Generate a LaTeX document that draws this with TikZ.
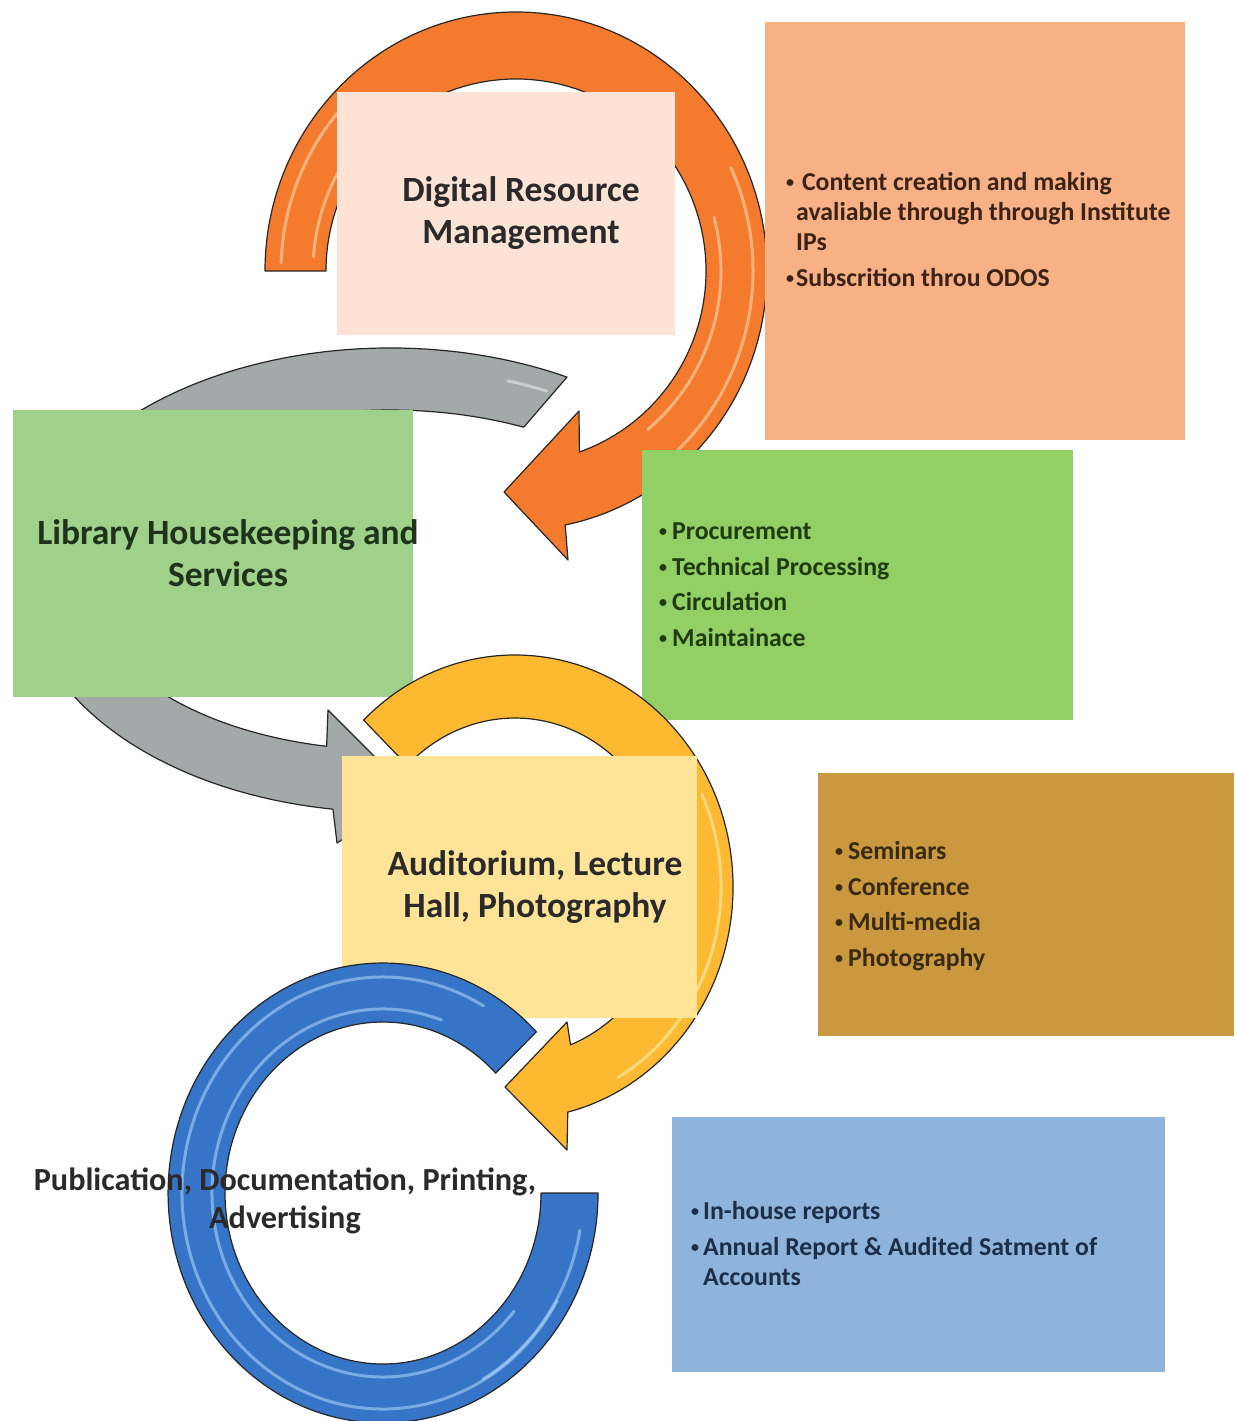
\documentclass[tikz,border=0pt]{standalone}
\usepackage{fontspec}
\setmainfont{Carlito}
\definecolor{arrOrange}{HTML}{F47B2E}
\definecolor{arrGray}{HTML}{A3A8A8}
\definecolor{arrYellow}{HTML}{FDB931}
\definecolor{arrBlue}{HTML}{3574C6}
\definecolor{orLight}{HTML}{FFD7B0}
\definecolor{blLight}{HTML}{A8D2F7}
\definecolor{yeLight}{HTML}{FFEFB0}
\definecolor{grLight}{HTML}{E4E8E8}
\definecolor{cDrm}{HTML}{FCE3D5}
\definecolor{cOrb}{HTML}{F8B085}
\definecolor{cLhs}{HTML}{9FD18B}
\definecolor{cGrb}{HTML}{92CF64}
\definecolor{cAud}{HTML}{FFE498}
\definecolor{cBrb}{HTML}{C9983F}
\definecolor{cBlb}{HTML}{8EB4DC}
\definecolor{tDark}{HTML}{2A2A2A}
\definecolor{tGreen}{HTML}{1F331C}
\definecolor{tOr}{HTML}{3B2317}
\definecolor{tGr}{HTML}{1F3B10}
\definecolor{tBr}{HTML}{3A2A10}
\definecolor{tBl}{HTML}{1C2E48}
\newcommand{\mybul}[1]{\makebox[#1][l]{\raisebox{2.6pt}{\fontsize{16}{16}\selectfont •}}}
\begin{document}
\begin{tikzpicture}[x=1pt,y=1pt,
  box/.style={draw=none, inner sep=0, outer sep=0, anchor=north west},
  band/.style={draw=black!85, line width=1.2pt, line join=round},
  gloss/.style={line width=3pt, line cap=round, opacity=0.6},
  lbl/.style={font=\fontsize{35.5}{42.5}\selectfont\bfseries, align=center, inner sep=0},
  itm/.style={font=\fontsize{25.8}{30}\selectfont\bfseries, anchor=base west, inner sep=0},
]
\useasboundingbox (0,0) rectangle (1234,-1421);
\fill[white] (0,0) rectangle (1234,-1421);

% ---------- orange circular arrow ----------
\filldraw[band, fill=arrOrange] (265,-271)
  arc[start angle=180, end angle=-78.7, x radius=251, y radius=259]
  -- (568,-560) -- (504,-492) -- (579,-411) -- (579.4,-452)
  arc[start angle=-70.5, end angle=180, x radius=190, y radius=192] -- cycle;
\draw[gloss, orLight] (516,-271) ++(178:235 and 243) arc[start angle=178, end angle=135, x radius=235, y radius=243];
\draw[gloss, orLight] (516,-271) ++(176:203 and 205) arc[start angle=176, end angle=140, x radius=203, y radius=205];
\draw[gloss, orLight] (516,-271) ++(25:237 and 245) arc[start angle=25, end angle=-55, x radius=237, y radius=245];
\draw[gloss, orLight] (516,-271) ++(15:205 and 207) arc[start angle=15, end angle=-50, x radius=205, y radius=207];

% ---------- upper boxes ----------
\node[box, fill=cDrm, minimum width=338, minimum height=243] (drm) at (337,-92) {};
\node[box, fill=cOrb, minimum width=420, minimum height=418] (orb) at (765,-22) {};
\node[box, fill=cGrb, minimum width=431, minimum height=270] (grb) at (642,-450) {};

% ---------- gray circular arrow ----------
\filldraw[band, fill=arrGray] (567,-377.1)
  arc[start angle=61, end angle=261, x radius=365, y radius=232]
  -- (337,-843) -- (413,-795) -- (328,-710) -- (326.6,-746.3)
  arc[start angle=258, end angle=64, x radius=305, y radius=170] -- cycle;
\draw[gloss, grLight] (390,-580) ++(70:345 and 212) arc[start angle=70, end angle=63, x radius=345, y radius=212];

\node[box, fill=cLhs, minimum width=400, minimum height=287] (lhs) at (13,-410) {};

% ---------- yellow circular arrow ----------
\filldraw[band, fill=arrYellow] (363.6,-720.1)
  arc[start angle=134, end angle=-76, x radius=218, y radius=232]
  -- (567,-1150) -- (505,-1087) -- (567,-1022) -- (570.5,-1044.8)
  arc[start angle=-69, end angle=134, x radius=155, y radius=169] -- cycle;
\draw[gloss, yeLight] (515,-887) ++(25:206 and 220) arc[start angle=25, end angle=-60, x radius=206, y radius=220];

% ---------- lower boxes ----------
\node[box, fill=cAud, minimum width=355, minimum height=262] (aud) at (342,-756) {};
\node[box, fill=cBrb, minimum width=416, minimum height=263] (brb) at (818,-773) {};
\node[box, fill=cBlb, minimum width=493, minimum height=255] (blb) at (672,-1117) {};

% ---------- blue ring ----------
\filldraw[band, fill=arrBlue] (536.4,-1031.8)
  arc[start angle=44.5, end angle=360, x radius=215, y radius=230]
  -- (541,-1193)
  arc[start angle=360, end angle=44.5, x radius=158, y radius=171] -- cycle;
\draw[gloss, blLight] (383,-1193) ++(60:201 and 216) arc[start angle=60, end angle=330, x radius=201, y radius=216];
\draw[gloss, blLight] (383,-1193) ++(70:171 and 184) arc[start angle=70, end angle=320, x radius=171, y radius=184];
\draw[gloss, blLight] (383,-1193) ++(350:200 and 215) arc[start angle=350, end angle=300, x radius=200, y radius=215];

% ---------- main labels ----------
\node[lbl, text=tDark] (drmT) at (521,-213) {Digital Resource\\Management};
\node[lbl, text=tGreen] (lhsT) at (228,-553) {Library Housekeeping and\\Services};
\node[lbl, text=tDark] (audT) at (535,-887) {Auditorium, Lecture\\Hall, Photography};
\node[lbl, text=tDark, font=\fontsize{32.2}{38}\selectfont\bfseries] (pubT) at (285,-1201) {Publication, Documentation, Printing,\\Advertising};

% ---------- orange box items ----------
\node[itm, text=tOr] (o1) at (786,-190) {\mybul{10pt}\ Content creation and making};
\node[itm, text=tOr] (o2) at (796,-220) {avaliable through through Institute};
\node[itm, text=tOr] (o3) at (796,-250) {IPs};
\node[itm, text=tOr] (o4) at (786,-286) {\mybul{10pt}Subscrition throu ODOS};

% ---------- green box items ----------
\node[itm, text=tGr] (g1) at (659,-539) {\mybul{13pt}Procurement};
\node[itm, text=tGr] (g2) at (659,-575) {\mybul{13pt}Technical Processing};
\node[itm, text=tGr] (g3) at (659,-610) {\mybul{13pt}Circulation};
\node[itm, text=tGr] (g4) at (659,-646) {\mybul{13pt}Maintainace};

% ---------- brown box items ----------
\node[itm, text=tBr] (b1) at (835,-859) {\mybul{13pt}Seminars};
\node[itm, text=tBr] (b2) at (835,-895) {\mybul{13pt}Conference};
\node[itm, text=tBr] (b3) at (835,-930) {\mybul{13pt}Multi-media};
\node[itm, text=tBr] (b4) at (835,-966) {\mybul{13pt}Photography};

% ---------- blue box items ----------
\node[itm, text=tBl] (u1) at (691,-1219) {\mybul{12pt}In-house reports};
\node[itm, text=tBl] (u2) at (691,-1255) {\mybul{12pt}Annual Report \& Audited Satment of};
\node[itm, text=tBl] (u3) at (703,-1285) {Accounts};
\end{tikzpicture}
\end{document}
